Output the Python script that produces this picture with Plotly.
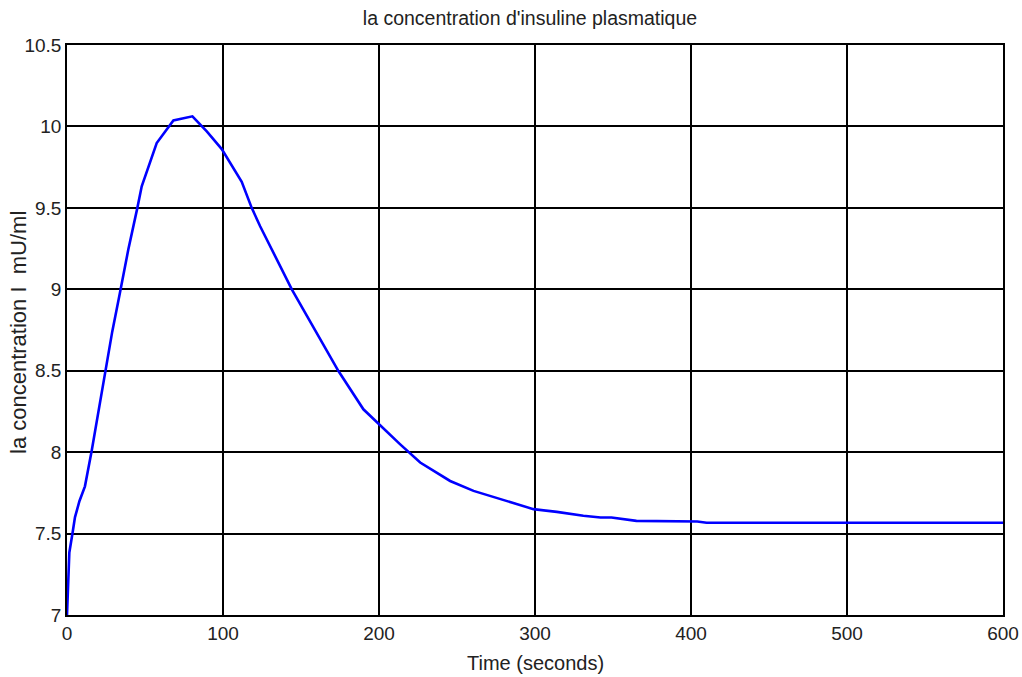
import plotly.graph_objects as go

# Time (seconds)
time_s = [0, 1.5, 3.6, 5.1, 8, 11.5, 15.8, 20, 24.4, 29, 33.5, 39.3, 45.1, 47.9, 57.5, 68.2,
          80.4, 89.6, 99.2, 104.5, 112, 118.4, 123.8, 144.1, 174, 190, 200.5, 213.6,
          226.4, 245.6, 260.6, 282, 299, 314, 331, 342, 349, 365, 399.5, 404, 410, 600]
# Insulin concentration I (mU/ml)
insulin = [7.0, 7.384, 7.507, 7.60, 7.70, 7.79, 8.007, 8.24, 8.51, 8.74, 8.958, 9.244, 9.50,
           9.632, 9.898, 10.037, 10.062, 9.969, 9.861, 9.775, 9.66, 9.50, 9.387, 9.0,
           8.498, 8.263, 8.165, 8.048, 7.936, 7.823, 7.762, 7.70, 7.65, 7.633, 7.609,
           7.599, 7.599, 7.578, 7.578, 7.574, 7.566, 7.566]

x_ticks = [0, 100, 200, 300, 400, 500, 600]
y_ticks = [7, 7.5, 8, 8.5, 9, 9.5, 10, 10.5]
y_tick_text = ["7", "7.5", "8", "8.5", "9", "9.5", "10", "10.5"]

title_text = "la concentration d'insuline plasmatique"
x_title = "Time (seconds)"
y_title = "la concentration I  mU/ml"

fig = go.Figure()
fig.add_trace(go.Scatter(x=time_s, y=insulin, mode="lines",
                         line=dict(color="#0000ff", width=2.6), showlegend=False,
                         hoverinfo="skip"))

font_family = "Liberation Sans, Arial, sans-serif"
txt_color = "#222222"
axis_common = dict(ticks="inside", ticklen=4, tickcolor="black", showgrid=True,
                   gridcolor="black", gridwidth=1.5, showline=True, linecolor="black",
                   linewidth=1.5, mirror="ticks", zeroline=False, automargin=False,
                   tickfont=dict(size=19, color=txt_color, family=font_family))
fig.update_layout(
    width=1022, height=677,
    paper_bgcolor="white", plot_bgcolor="white",
    margin=dict(l=67, r=19, t=45, b=62),
    font=dict(family=font_family, size=19, color=txt_color),
    title=dict(text=title_text, x=530 / 1022, xanchor="center", xref="container",
               y=1 - 18 / 677, yanchor="middle", yref="container",
               font=dict(size=19.5, color=txt_color, family=font_family)),
    xaxis=dict(range=[0, 600], tickvals=x_ticks, **axis_common),
    yaxis=dict(range=[7, 10.5], tickvals=y_ticks, ticktext=y_tick_text, **axis_common),
    annotations=[
        dict(text=x_title, xref="paper", yref="paper", x=0.5, y=0, xanchor="center",
             yanchor="middle", yshift=-48, showarrow=False,
             font=dict(size=20, color=txt_color, family=font_family)),
        dict(text=y_title, xref="paper", yref="paper", x=0, y=0.5, xanchor="center",
             yanchor="middle", xshift=-49, yshift=-3, textangle=-90, showarrow=False,
             font=dict(size=22, color=txt_color, family=font_family)),
    ],
)

fig.write_html("out.html", config={"displayModeBar": False},
               post_script="document.body.style.margin='0';")
